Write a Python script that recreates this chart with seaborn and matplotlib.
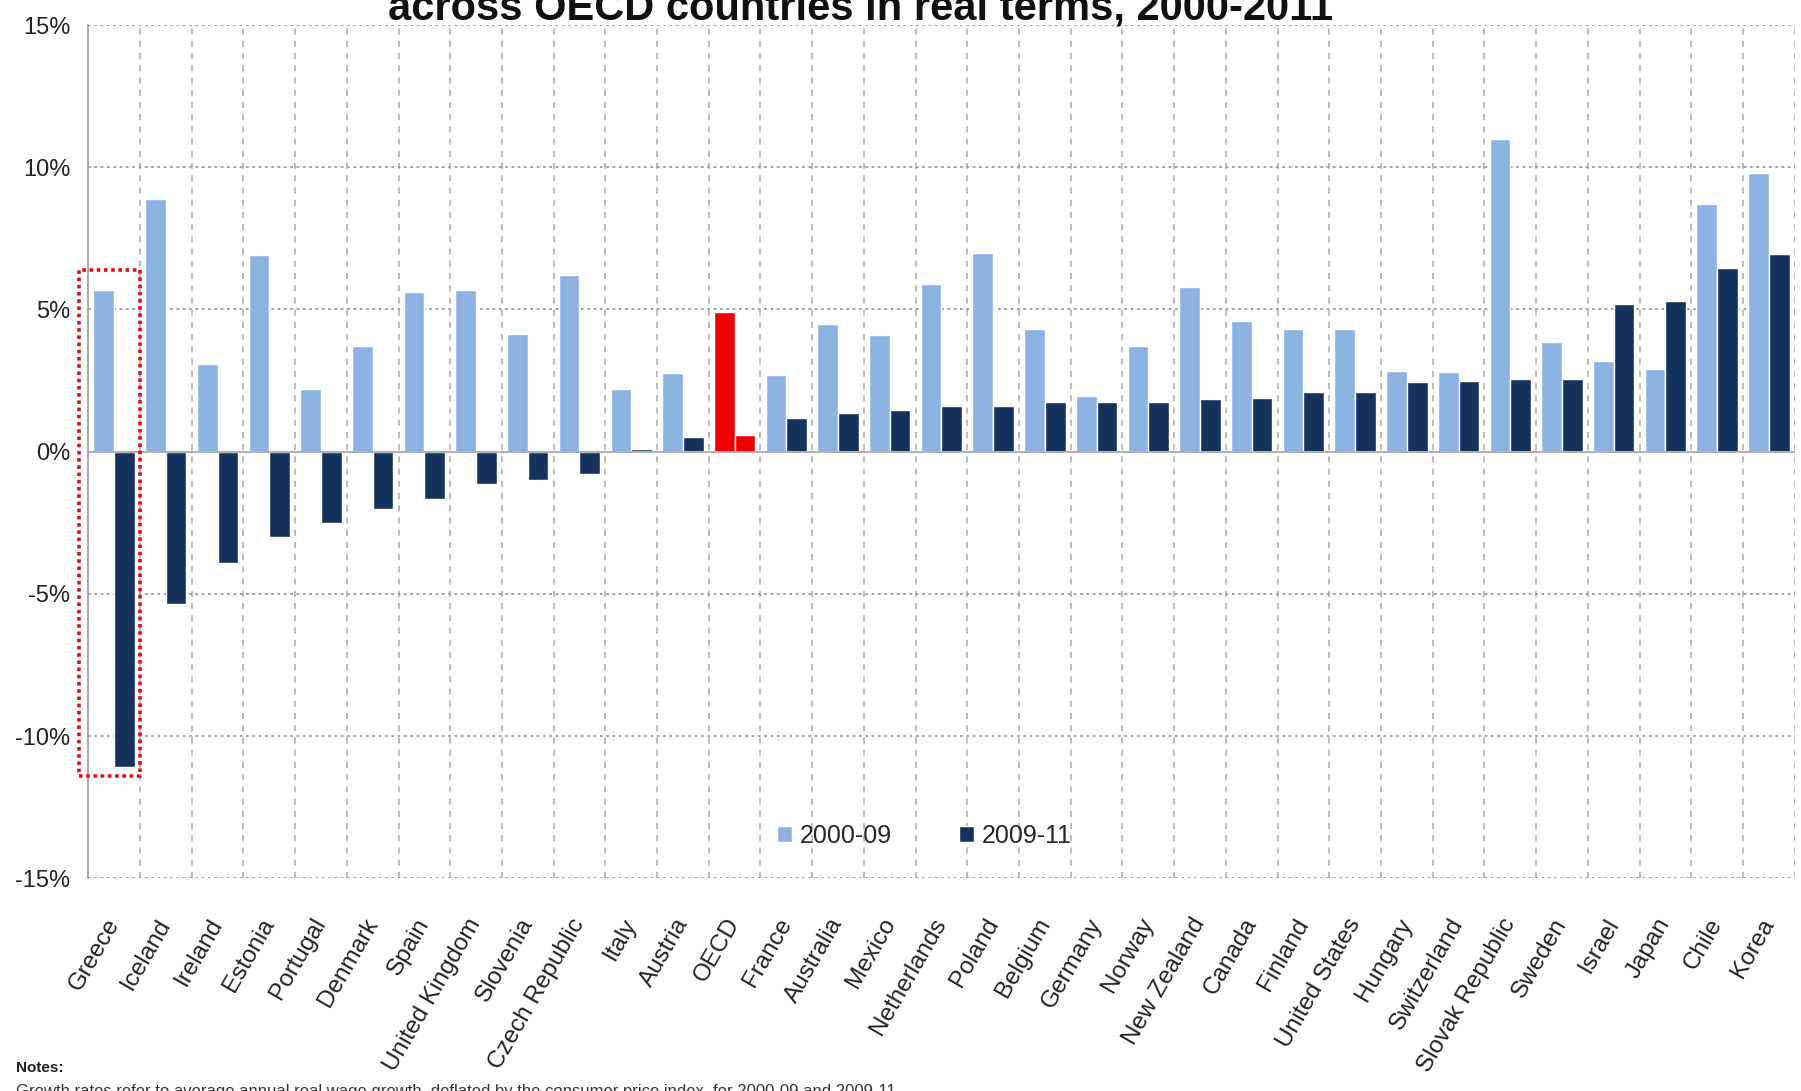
import matplotlib
matplotlib.use("Agg")
import matplotlib.pyplot as plt
import seaborn as sns
import pandas as pd
import numpy as np
from matplotlib.patches import Rectangle
from matplotlib.ticker import FuncFormatter, MultipleLocator

countries = ["Greece", "Iceland", "Ireland", "Estonia", "Portugal", "Denmark", "Spain",
             "United Kingdom", "Slovenia", "Czech Republic", "Italy", "Austria", "OECD",
             "France", "Australia", "Mexico", "Netherlands", "Poland", "Belgium", "Germany",
             "Norway", "New Zealand", "Canada", "Finland", "United States", "Hungary",
             "Switzerland", "Slovak Republic", "Sweden", "Israel", "Japan", "Chile", "Korea"]
growth_2000_09 = [5.7, 8.9, 3.1, 6.9, 2.2, 3.7, 5.6, 5.7, 4.15, 6.2, 2.2, 2.75, 4.9,
                  2.7, 4.5, 4.1, 5.9, 7.0, 4.3, 1.95, 3.7, 5.8, 4.6, 4.3, 4.3, 2.85,
                  2.8, 11.0, 3.85, 3.2, 2.9, 8.7, 9.8]
growth_2009_11 = [-11.1, -5.35, -3.9, -3.0, -2.5, -2.0, -1.65, -1.15, -1.0, -0.8, 0.1, 0.5, 0.6,
                  1.2, 1.35, 1.45, 1.6, 1.6, 1.75, 1.75, 1.75, 1.85, 1.9, 2.1, 2.1, 2.45,
                  2.5, 2.55, 2.55, 5.2, 5.3, 6.45, 6.95]
periods = ["2000-09", "2009-11"]
title = "across OECD countries in real terms, 2000-2011"

df = pd.DataFrame({
    "country": countries * 2,
    "value": growth_2000_09 + growth_2009_11,
    "period": [periods[0]] * len(countries) + [periods[1]] * len(countries),
})

sns.set_theme(style="white")
plt.rcParams["font.family"] = ["Liberation Sans", "DejaVu Sans"]

fig = plt.figure(figsize=(18.01, 10.91), dpi=100)
ax = fig.add_axes([0.049, 0.195, 0.9475, 0.782])

light = "#8db3e2"
dark = "#14325c"
sns.barplot(data=df, x="country", y="value", hue="period", order=countries,
            hue_order=periods, palette=[light, dark], width=0.8, saturation=1,
            ax=ax, legend=True)

# highlight OECD average in red
oecd_idx = countries.index("OECD")
for cont in ax.containers:
    cont.patches[oecd_idx].set_facecolor("#ee0000")

ax.set_ylim(-15, 15)
ax.set_xlim(-0.5, len(countries) - 0.5)
ax.yaxis.set_major_locator(MultipleLocator(5))
ax.yaxis.set_major_formatter(FuncFormatter(lambda v, p: f"{v:.0f}%"))
ax.set_xlabel("")
ax.set_ylabel("")

# gridlines
ax.set_xticks(np.arange(len(countries)) + 0.5, minor=True)
ax.grid(which="minor", axis="x", color="#a8a8a8", linestyle=(0, (4, 4)), linewidth=1.1)
ax.grid(which="major", axis="y", color="#9a9a9a", linestyle=(0, (1.5, 2)), linewidth=1.3)
ax.grid(which="major", axis="x", visible=False)
ax.set_axisbelow(True)
ax.axhline(0, color="#b0b0b0", linewidth=1.5, zorder=1.5)

for s in ["top", "right", "bottom"]:
    ax.spines[s].set_visible(False)
ax.spines["left"].set_color("#a0a0a0")
ax.spines["left"].set_linewidth(1.3)

ax.tick_params(axis="y", labelsize=17, length=0, pad=13, colors="#222222")
ax.tick_params(axis="x", which="both", length=0, pad=30)
plt.setp(ax.get_xticklabels(), rotation=60, ha="right", va="center",
         rotation_mode="anchor", fontsize=17.5, color="#222222")

# legend inside plot
h, l = ax.get_legend_handles_labels()
ax.legend(h, l, loc="center", bbox_to_anchor=(0.49, 0.05), ncol=2, frameon=False,
          handlelength=0.6, handleheight=0.6, handletextpad=0.3, columnspacing=2.7,
          fontsize=18)

# dotted red highlight box around Greece
ax.add_patch(Rectangle((-0.68, -11.4), 1.18, 17.8, fill=False, edgecolor="#dd1111",
                       linewidth=2.6, linestyle=(0, (1, 1)), clip_on=False, zorder=5))

# title (top partially cut off as in the original)
fig.text(0.478, 1 - 20 / 1091, title, ha="center", va="baseline", fontsize=30,
         fontweight="bold", color="#111111")

fig.text(0.009, 1 - 1072 / 1091, "Notes:", ha="left", va="baseline", fontsize=11,
         fontweight="bold", color="#222222")
fig.text(0.009, 1 - 1096 / 1091,
         "Growth rates refer to average annual real wage growth, deflated by the consumer price index, for 2000-09 and 2009-11.",
         ha="left", va="baseline", fontsize=12, color="#333333")

fig.savefig("out.png", dpi=100)
